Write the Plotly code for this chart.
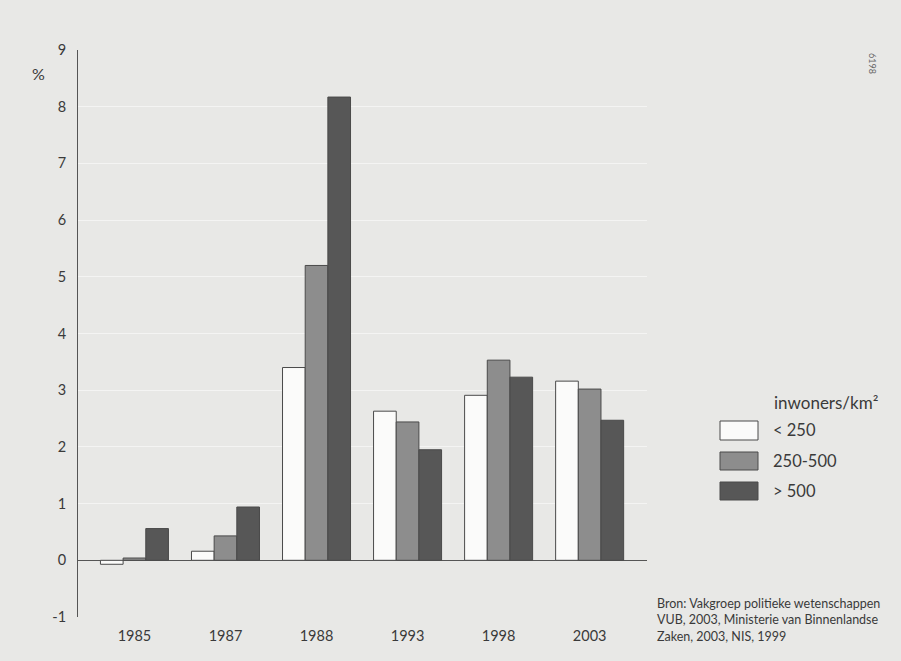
import plotly.graph_objects as go

# ---- data ----
years = ["1985", "1987", "1988", "1993", "1998", "2003"]
lt_250 = [-0.07, 0.16, 3.40, 2.63, 2.91, 3.16]
r250_500 = [0.04, 0.43, 5.20, 2.44, 3.53, 3.02]
gt_500 = [0.56, 0.94, 8.17, 1.95, 3.23, 2.47]
series_names = ["< 250", "250-500", "> 500"]
y_ticks = [-1, 0, 1, 2, 3, 4, 5, 6, 7, 8, 9]
y_tick_text = ["-1", "0", "1", "2", "3", "4", "5", "6", "7", "8", "9"]

# ---- styling ----
W, H = 901, 661
L, R, T, B = 78, 647, 50, 617
BG = "#e8e8e6"
COLORS = ["#fbfbfa", "#8d8d8d", "#575757"]
EDGE = "#4a4a4a"
TXT = "#3a3a3a"
FONT = "Lato"

fig = go.Figure()
for name, vals, col in zip(series_names, [lt_250, r250_500, gt_500], COLORS):
    fig.add_trace(go.Bar(
        x=years, y=vals, name=name,
        marker=dict(color=col, line=dict(color=EDGE, width=1)),
        showlegend=False,
    ))


def px(x):
    return (x - L) / (R - L)


def py(y):
    return (B - y) / (B - T)


shapes = []
annotations = []

# legend (drawn manually to match the large swatches)
leg_rows = [(421, 440), (452, 470), (482, 500)]
for (y0, y1), name, col in zip(leg_rows, series_names, COLORS):
    shapes.append(dict(type="rect", xref="paper", yref="paper",
                       x0=px(720), x1=px(758), y0=py(y1), y1=py(y0),
                       fillcolor=col, line=dict(color=EDGE, width=1)))
    annotations.append(dict(xref="paper", yref="paper", x=px(771), y=py((y0 + y1) / 2),
                            text=name, showarrow=False, xanchor="left", yanchor="middle",
                            font=dict(family=FONT, size=16.5, color=TXT)))
annotations.append(dict(xref="paper", yref="paper", x=px(772), y=py(402),
                        text="inwoners/km²", showarrow=False, xanchor="left", yanchor="middle",
                        font=dict(family=FONT, size=17, color=TXT)))

# y unit
annotations.append(dict(xref="paper", yref="paper", x=px(38), y=py(73),
                        text="%", showarrow=False, xanchor="center", yanchor="middle",
                        font=dict(family=FONT, size=16, color=TXT)))

# source
annotations.append(dict(xref="paper", yref="paper", x=px(655), y=py(620),
                        text="Bron: Vakgroep politieke wetenschappen<br>VUB, 2003, Ministerie van Binnenlandse<br>Zaken, 2003, NIS, 1999",
                        showarrow=False, xanchor="left", yanchor="middle", align="left",
                        font=dict(family=FONT, size=12.5, color=TXT)))

# page number
annotations.append(dict(xref="paper", yref="paper", x=px(873), y=py(63),
                        text="6198", showarrow=False, textangle=90,
                        xanchor="center", yanchor="middle",
                        font=dict(family=FONT, size=9, color="#666666")))

fig.update_layout(
    width=W, height=H,
    margin=dict(l=L, r=W - R, t=T, b=H - B, pad=0),
    paper_bgcolor=BG, plot_bgcolor=BG,
    barmode="group", bargap=0.253, bargroupgap=0,
    shapes=shapes, annotations=annotations,
    font=dict(family=FONT, color=TXT),
    xaxis=dict(range=[-0.62, 5.63], showgrid=False, showline=False, zeroline=False,
               ticks="", tickfont=dict(family=FONT, size=14.5, color=TXT),
               ticklabelstandoff=8, fixedrange=True),
    yaxis=dict(range=[-1, 9], tickvals=y_ticks, ticktext=y_tick_text, showgrid=True,
               gridcolor="rgba(255,255,255,0.5)", gridwidth=1,
               showline=True, linecolor="#555555", linewidth=1,
               zeroline=True, zerolinecolor="#555555", zerolinewidth=1,
               ticks="", tickfont=dict(family=FONT, size=14.5, color=TXT),
               ticklabelstandoff=8, fixedrange=True),
)

fig.write_html(
    "out.html",
    config={"displayModeBar": False},
    post_script=(
        "document.body.style.margin='0';"
        "document.body.style.overflow='hidden';"
        "document.body.style.background='" + BG + "';"
        "document.documentElement.style.background='" + BG + "';"
    ),
)
